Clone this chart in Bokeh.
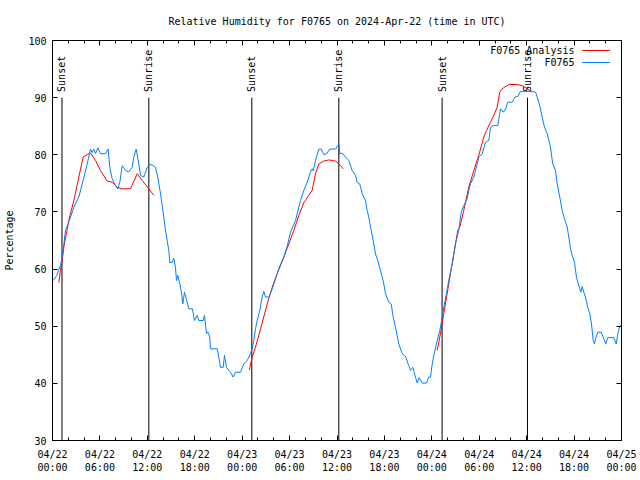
import math
from bokeh.plotting import figure
from bokeh.models import Range1d, FixedTicker, LinearAxis, Label, Arrow, ColumnDataSource
from bokeh.core.properties import value
from bokeh.embed import file_html
from bokeh.resources import INLINE

FONT = "DejaVu Sans Mono"
FS = "10px"

TITLE = "Relative Humidity for F0765 on 2024-Apr-22 (time in UTC)"
Y_LABEL = "Percentage"

# hours since 2024-04-22 00:00 UTC
X_TICKS = [0, 6, 12, 18, 24, 30, 36, 42, 48, 54, 60, 66, 72]
X_TICK_LABELS = ["04/22\n00:00", "04/22\n06:00", "04/22\n12:00", "04/22\n18:00",
                 "04/23\n00:00", "04/23\n06:00", "04/23\n12:00", "04/23\n18:00",
                 "04/24\n00:00", "04/24\n06:00", "04/24\n12:00", "04/24\n18:00",
                 "04/25\n00:00"]
X_MINOR = list(range(0, 73, 2))
Y_TICKS = [30, 40, 50, 60, 70, 80, 90, 100]

SUN_TIMES = [1.2, 12.19, 25.22, 36.23, 49.3, 60.1]
SUN_NAMES = ["Sunset", "Sunrise", "Sunset", "Sunrise", "Sunset", "Sunrise"]

obs_hours = [0.1, 0.55, 0.8, 1.0, 1.23, 1.45, 1.64, 2.06, 2.7, 3.33, 3.76, 4.39, 4.81, 5.0, 5.23,
             5.44, 5.73, 6.07, 6.71, 7.05, 7.25, 7.55, 7.97, 8.26, 8.52, 8.82, 9.24, 9.65, 10.08,
             10.29, 10.59, 10.92, 11.13, 11.55, 11.98, 12.3, 12.62, 13.03, 13.32, 13.67, 14.08,
             14.3, 14.51, 14.72, 14.84, 15.15, 15.35, 15.56, 15.69, 15.85, 16.05, 16.28, 16.49,
             16.7, 17.04, 17.25, 17.71, 17.97, 18.31, 18.51, 19.07, 19.23, 19.49, 19.65, 19.9,
             19.99, 20.84, 21.04, 21.26, 21.6, 21.76, 22.02, 22.31, 22.52, 22.86, 23.16, 23.79,
             24.21, 24.64, 25.05, 25.27, 25.47, 25.69, 25.9, 26.23, 26.53, 26.74, 26.95, 27.37,
             27.8, 28.22, 28.63, 29.27, 29.7, 30.12, 30.75, 31.38, 31.8, 32.23, 32.65, 32.86,
             33.0, 33.28, 33.7, 34.0, 34.33, 34.67, 35.09, 35.81, 36.02, 36.23, 36.35, 36.66,
             37.07, 37.49, 37.92, 38.34, 38.55, 38.88, 39.19, 39.6, 39.82, 40.02, 40.24, 40.58,
             40.87, 41.16, 41.5, 41.84, 42.14, 42.55, 42.86, 43.11, 43.4, 43.82, 44.25, 44.67,
             45.08, 45.3, 45.59, 45.93, 46.15, 46.4, 46.78, 47.32, 47.61, 47.83, 48.05, 48.34,
             48.68, 49.01, 49.31, 49.51, 49.85, 50.14, 50.58, 50.99, 51.28, 51.41, 51.72, 52.04,
             52.47, 52.68, 52.89, 53.31, 53.74, 53.94, 54.37, 54.79, 55.21, 55.42, 55.76, 56.35,
             56.69, 57.03, 57.32, 57.61, 58.17, 58.5, 58.88, 59.22, 60.7, 61.12, 61.33, 61.66,
             61.96, 62.25, 62.6, 63.01, 63.3, 63.65, 63.86, 64.19, 64.49, 64.79, 65.13, 65.33,
             65.55, 65.76, 66.05, 66.3, 66.47, 66.72, 66.85, 67.03, 67.23, 67.44, 67.73, 67.99,
             68.2, 68.42, 68.58, 68.71, 69.0, 69.43, 69.76, 70.01, 70.26, 71.02, 71.33, 71.53,
             71.78, 72.0]
obs_rh = [58.0, 58.9, 59.9, 60.6, 62.1, 64.5, 66.75, 68.2, 70.8, 72.6, 74.9, 78.4, 81.0, 80.4, 81.0,
          80.2, 81.2, 80.2, 80.2, 81.0, 77.8, 75.8, 74.6, 74.0, 75.2, 78.1, 77.25, 77.0, 77.8,
          79.6, 81.0, 78.4, 76.4, 76.1, 77.8, 78.3, 78.2, 77.8, 76.1, 73.2, 69.1,
          66.75, 65.0, 63.25, 61.1, 61.2, 61.9, 60.3, 58.0, 58.9, 57.8, 56.25, 53.9,
          55.95, 54.2, 53.05, 53.05, 51.0, 51.9, 51.0, 51.0, 51.9, 48.7, 49.0, 48.1,
          46.05, 46.05, 44.6, 42.8, 42.8, 44.9, 42.8, 42.25, 41.95, 41.1, 41.95, 41.95,
          43.4, 44.0, 45.2, 46.05, 47.5, 49.55, 51.0, 52.75, 55.1, 56.1, 55.1, 55.1,
          56.5, 58.3, 60.05, 62.1, 64.0, 66.45, 68.5, 72.0, 73.75, 75.2, 77.0, 77.55,
          77.2, 79.0, 81.0, 81.0, 80.05, 80.15, 81.0, 81.0, 81.45, 81.9, 80.15, 80.3,
          79.6, 79.0, 77.25, 76.4, 75.2, 74.9, 73.2, 72.0, 70.25, 69.1, 67.35, 65.0,
          62.65, 61.5, 59.75, 58.0, 55.7, 54.2, 53.9, 51.6, 49.8, 46.9, 45.2, 44.7,
          43.1, 42.25, 42.8, 41.1, 40.05, 41.0, 40.05, 40.05, 41.1, 41.1, 43.4, 45.45,
          47.5, 49.25, 51.6, 53.3, 55.7, 58.0, 60.9, 64.4, 66.15, 66.75, 69.95, 71.1,
          72.3, 73.75, 74.9, 76.1, 78.4, 79.6, 80.15, 82.2, 82.5, 84.8, 85.1, 85.1,
          88.05, 87.45, 88.0, 89.2, 89.2, 90.1, 90.2, 91.1, 91.1, 90.95, 90.1, 88.6,
          86.6, 84.85, 83.7, 81.35, 78.4, 77.25, 74.9, 72.6, 70.25, 68.8, 67.35, 65.6,
          63.55, 62.4, 61.2, 58.6, 57.7, 56.55, 55.95, 56.95, 55.95, 55.1, 53.3, 52.2,
          50.4, 47.5, 46.9, 47.8, 48.95, 48.95, 47.8, 46.9, 48.0, 48.0, 46.9, 48.65,
          50.0, 50.1]

ana1_hours = [0.8, 1.01, 1.23, 1.43, 2.06, 2.7, 3.33, 3.88, 4.39, 4.81, 5.44, 6.07, 6.92, 7.55,
              8.19, 8.82, 9.87, 10.72, 11.35, 12.19, 12.82]
ana1_rh = [57.6, 59.8, 61.5, 63.8, 68.5, 72.0, 76.1, 79.6, 80.05, 80.3, 79.0, 77.25, 75.4, 75.2,
           74.3, 74.05, 74.05, 76.7, 75.5, 74.05, 72.9]
ana2_hours = [24.9, 25.27, 25.68, 26.32, 27.17, 27.8, 28.43, 29.27, 29.9, 30.53, 31.17, 31.8,
              32.43, 32.86, 33.28, 33.7, 34.33, 34.96, 35.81, 36.23, 36.45, 36.78]
ana2_rh = [42.3, 44.6, 46.3, 49.5, 53.9, 56.8, 59.2, 62.1, 64.4, 66.75, 69.4, 71.6,
           72.9, 73.75, 76.7, 78.4, 78.9, 79.1, 78.9, 78.4, 78.1, 77.55]
ana3_hours = [48.68, 49.09, 49.51, 49.94, 50.36, 50.78, 51.28, 51.54, 52.04, 52.68, 53.31, 53.94,
              54.57, 54.92, 55.42, 55.84, 56.27, 56.6, 56.9, 57.74, 58.8, 59.43, 60.07, 60.7]
ana3_rh = [45.75, 48.7, 52.2, 55.7, 59.2, 62.65, 66.75, 67.35, 70.25, 74.35, 77.25, 79.9,
           83.1, 84.25, 85.7, 86.9, 88.35, 91.0, 91.55, 92.3, 92.3, 92.1, 91.55, 90.95]

RED = "#ff0000"
BLUE = "#0080ff"

p = figure(width=636, height=476, output_backend="svg", toolbar_location=None,
           x_range=Range1d(0, 72), y_range=Range1d(30, 100), title=TITLE,
           min_border_left=52, min_border_right=15, min_border_top=40, min_border_bottom=36)
p.grid.visible = False
p.outline_line_color = "black"
p.outline_line_width = 1
p.background_fill_color = "white"
p.border_fill_color = "white"

p.title.align = "center"
p.title.text_font = FONT
p.title.text_font_size = FS
p.title.text_font_style = "normal"
p.title.text_color = "black"
p.title.standoff = 27

xt = FixedTicker(ticks=X_TICKS, minor_ticks=X_MINOR)
yt = FixedTicker(ticks=Y_TICKS)

xa = p.xaxis[0]
xa.ticker = xt
xa.major_label_overrides = {t: l for t, l in zip(X_TICKS, X_TICK_LABELS)}
ya = p.yaxis[0]
ya.ticker = yt
ya.axis_label = Y_LABEL

for ax in (xa, ya):
    ax.major_tick_in = 5
    ax.major_tick_out = 0
    ax.minor_tick_in = 3
    ax.minor_tick_out = 0
    ax.major_label_text_font = FONT
    ax.major_label_text_font_size = FS
    ax.major_label_text_color = "black"
    ax.axis_label_text_font = FONT
    ax.axis_label_text_font_size = FS
    ax.axis_label_text_font_style = "normal"
    ax.axis_label_text_color = "black"
    ax.axis_line_color = "black"
ya.minor_tick_line_color = None
xa.major_label_standoff = 8
ya.major_label_standoff = 6
ya.axis_label_standoff = 10

# mirrored ticks on top and right (label-free axes: only minor ticks are used)
top_minor = LinearAxis(ticker=FixedTicker(ticks=[], minor_ticks=X_MINOR),
                       major_tick_in=0, major_tick_out=0, minor_tick_in=3, minor_tick_out=0,
                       major_label_standoff=0, axis_line_color="black")
top_major = LinearAxis(ticker=FixedTicker(ticks=[], minor_ticks=X_TICKS),
                       major_tick_in=0, major_tick_out=0, minor_tick_in=5, minor_tick_out=0,
                       major_label_standoff=0, axis_line_color="black")
right_ax = LinearAxis(ticker=FixedTicker(ticks=[], minor_ticks=Y_TICKS),
                      major_tick_in=0, major_tick_out=0, minor_tick_in=5, minor_tick_out=0,
                      major_label_standoff=0, axis_line_color="black")
p.add_layout(top_minor, "above")
p.add_layout(top_major, "above")
p.add_layout(right_ax, "right")

# sunrise / sunset markers
sun = ColumnDataSource(dict(x=SUN_TIMES, y0=[30] * len(SUN_TIMES), y1=[90] * len(SUN_TIMES),
                            ty=[91] * len(SUN_TIMES), name=SUN_NAMES))
p.segment(x0="x", y0="y0", x1="x", y1="y1", source=sun, line_color="black", line_width=1)
p.text(x="x", y="ty", text="name", source=sun, angle=math.pi / 2, text_align="left",
       text_baseline="middle", text_font=value(FONT), text_font_size=FS, text_color="black")

# data
for hx, hy in ((ana1_hours, ana1_rh), (ana2_hours, ana2_rh), (ana3_hours, ana3_rh)):
    p.line(hx, hy, line_color=RED, line_width=1)
p.line(obs_hours, obs_rh, line_color=BLUE, line_width=1)

# gnuplot-style key (text right, sample on right)
for txt, ly, col in (("F0765 Analysis", 98.25, RED), ("F0765", 96.15, BLUE)):
    p.add_layout(Label(x=66.05, y=ly, text=txt, text_align="right", text_baseline="middle",
                       text_font=FONT, text_font_size=FS, text_color="black"))
    p.add_layout(Arrow(end=None, x_start=67.03, y_start=ly, x_end=70.52, y_end=ly,
                       line_color=col, line_width=1))

open("out.html", "w").write(file_html(p, INLINE))
